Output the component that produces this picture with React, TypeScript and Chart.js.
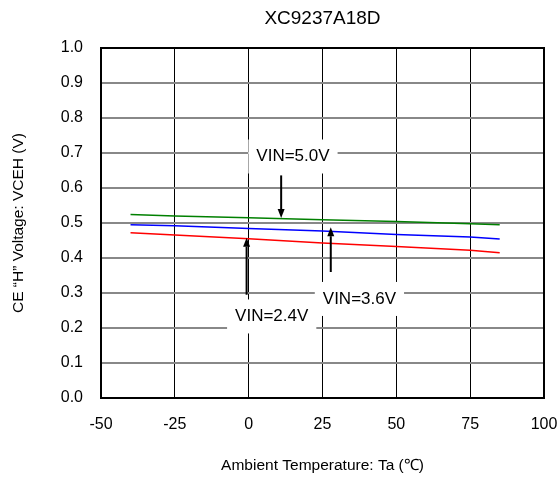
import { useEffect, useRef } from "react";
import { Chart, registerables } from "chart.js";

Chart.register(...registerables);

const FONT = '"Liberation Sans", Arial, Helvetica, sans-serif';

// Data
const chartTitle = "XC9237A18D";
const xAxisTitle = "Ambient Temperature: Ta (℃)";
const yAxisTitle = "CE “H” Voltage: VCEH (V)";
const temps = [-40, -25, 0, 25, 50, 75, 85];
const vin50 = [0.524, 0.52, 0.515, 0.509, 0.504, 0.498, 0.495];
const vin36 = [0.495, 0.492, 0.484, 0.477, 0.467, 0.46, 0.454];
const vin24 = [0.472, 0.466, 0.455, 0.443, 0.433, 0.422, 0.415];
const seriesLabels = ["VIN=5.0V", "VIN=3.6V", "VIN=2.4V"];
const seriesColors = ["#008000", "#0000ff", "#ff0000"];

// Annotation anchors (data coordinates)
const noteX = [15.0, 37.5, 7.8];
const noteY = [0.69, 0.283, 0.233];
const arrowX = [11.0, 27.8, -0.7];
const arrowFrom = [0.636, 0.36, 0.295];
const arrowTo = [0.514, 0.488, 0.458];

const notesPlugin = {
  id: "notes",
  beforeDatasetsDraw(chart: any) {
    const { ctx, chartArea, scales } = chart;
    const x = scales.x;
    const y = scales.y;
    ctx.save();
    // frame
    ctx.strokeStyle = "#000";
    ctx.lineWidth = 2;
    ctx.strokeRect(chartArea.left, chartArea.top, chartArea.right - chartArea.left, chartArea.bottom - chartArea.top);
    // title centered over the plot area
    ctx.fillStyle = "#000";
    ctx.font = `19px ${FONT}`;
    ctx.textAlign = "center";
    ctx.textBaseline = "middle";
    ctx.fillText(chartTitle, (chartArea.left + chartArea.right) / 2, 19);
    ctx.font = `17px ${FONT}`;
    seriesLabels.forEach((t, i) => {
      const cx = x.getPixelForValue(noteX[i]);
      const cy = y.getPixelForValue(noteY[i]);
      const w = ctx.measureText(t).width + 16;
      const h = 34;
      ctx.fillStyle = "#fff";
      ctx.fillRect(cx - w / 2, cy - h / 2, w, h);
      ctx.fillStyle = "#000";
      ctx.fillText(t, cx, cy);
    });
    ctx.restore();
  },
  afterDatasetsDraw(chart: any) {
    const { ctx, scales } = chart;
    const x = scales.x;
    const y = scales.y;
    ctx.save();
    ctx.strokeStyle = "#000";
    ctx.fillStyle = "#000";
    ctx.lineWidth = 2;
    arrowX.forEach((ax, i) => {
      const px = x.getPixelForValue(ax);
      const y1 = y.getPixelForValue(arrowFrom[i]);
      const y2 = y.getPixelForValue(arrowTo[i]);
      const dir = y2 > y1 ? 1 : -1;
      const head = 9;
      ctx.beginPath();
      ctx.moveTo(px, y1);
      ctx.lineTo(px, y2 - dir * head);
      ctx.stroke();
      ctx.beginPath();
      ctx.moveTo(px, y2);
      ctx.lineTo(px - 3.5, y2 - dir * head);
      ctx.lineTo(px + 3.5, y2 - dir * head);
      ctx.closePath();
      ctx.fill();
    });
    ctx.restore();
  },
};

export default function App() {
  const ref = useRef<HTMLCanvasElement | null>(null);
  useEffect(() => {
    if (!ref.current) return;
    const chart = new Chart(ref.current, {
      type: "line",
      data: {
        labels: temps,
        datasets: [vin50, vin36, vin24].map((vals, i) => ({
          label: seriesLabels[i],
          data: temps.map((t, j) => ({ x: t, y: vals[j] })),
          borderColor: seriesColors[i],
          backgroundColor: seriesColors[i],
          borderWidth: 1.5,
          pointRadius: 0,
          tension: 0,
        })),
      },
      options: {
        responsive: false,
        animation: false,
        layout: { padding: { left: 0, right: 16, top: 48, bottom: 0 } },
        plugins: {
          legend: { display: false },
          tooltip: { enabled: false },
          title: { display: false },
        },
        scales: {
          x: {
            type: "linear",
            min: -50,
            max: 100,
            afterFit: (s: any) => {
              s.height = 82;
              s.paddingLeft = 0;
              s.paddingRight = 0;
            },
            ticks: {
              stepSize: 25,
              color: "#000",
              font: { family: FONT, size: 16 },
              padding: 17,
              maxRotation: 0,
            },
            grid: { color: "#000", lineWidth: 1, drawTicks: false },
            border: { color: "#000", width: 2 },
            title: {
              display: true,
              text: xAxisTitle,
              color: "#000",
              font: { family: FONT, size: 15.5 },
              padding: { top: 0, bottom: 5 },
            },
          },
          y: {
            type: "linear",
            min: 0,
            max: 1,
            afterFit: (s: any) => {
              s.width = 101;
              s.paddingTop = 0;
              s.paddingBottom = 0;
            },
            ticks: {
              stepSize: 0.1,
              color: "#000",
              font: { family: FONT, size: 16 },
              padding: 18,
              callback: (v: any) => Number(v).toFixed(1),
            },
            grid: { color: "#888", lineWidth: 2, drawTicks: false },
            border: { color: "#000", width: 2 },
            title: {
              display: true,
              text: yAxisTitle,
              color: "#000",
              font: { family: FONT, size: 15.5 },
              padding: { top: 9, bottom: 0 },
            },
          },
        },
      },
      plugins: [notesPlugin],
    } as any);
    return () => chart.destroy();
  }, []);
  return (
    <div style={{ position: "fixed", left: 0, top: 0, width: 560, height: 480, background: "#fff" }}>
      <canvas ref={ref} width={560} height={480} />
    </div>
  );
}
